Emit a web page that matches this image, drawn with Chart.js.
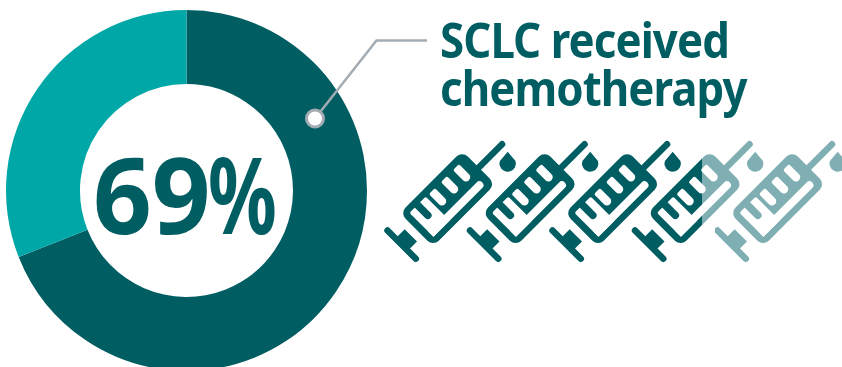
<!DOCTYPE html>
<html>
<head>
<meta charset="utf-8">
<title>SCLC received chemotherapy</title>
<script src="https://cdn.jsdelivr.net/npm/chart.js@4"></script>
<style>
  html, body { margin: 0; padding: 0; background: #fff; overflow: hidden; width: 842px; height: 367px; }
  #wrap { position: relative; width: 842px; height: 367px; overflow: hidden; }
  canvas { position: absolute; left: 0; top: 0; }
  .label { position: absolute; color: #005e63; font-family: "Noto Sans", sans-serif; white-space: nowrap; transform-origin: 0 0; }
  #pct { left: 93px; top: 128px; font-size: 106px; font-weight: 700; line-height: 130px; }
  #pct span { position: absolute; top: 0; transform-origin: 0 0; }
  #digits { left: 0; transform: scaleX(0.97); }
  #sign { left: 115px; transform: scaleX(0.72); }
  #line1 { left: 440px; top: 10px; font-size: 48px; font-weight: 700; line-height: 60px; letter-spacing: -1px; transform: scaleX(0.912); }
  #line2 { left: 440px; top: 58px; font-size: 48px; font-weight: 700; line-height: 60px; letter-spacing: -1px; transform: scaleX(0.912); }
</style>
</head>
<body>
<div id="wrap">
  <canvas id="chart" width="842" height="381"></canvas>
  <div class="label" id="pct"><span id="digits"></span><span id="sign"></span></div>
  <div class="label" id="line1"></div>
  <div class="label" id="line2"></div>
</div>
<script>
const categories = ['Received chemotherapy', 'Did not receive chemotherapy'];
const sliceValues = [69, 31];
const sliceColors = ['#005e63', '#00a7a7'];
const centerLabel = ['69', '%'];
const titleLines = ['SCLC received', 'chemotherapy'];
// how much of each syringe is dark, left to right
const syringeFill = [1, 1, 1, 0.58, 0];

const DARK = '#005e63';
const LIGHT = '#7fafb2';
const LEADER = '#a3abb3';

document.getElementById('digits').textContent = centerLabel[0];
document.getElementById('sign').textContent = centerLabel[1];
document.getElementById('line1').textContent = titleLines[0];
document.getElementById('line2').textContent = titleLines[1];

function roundRect(ctx, x, y, w, h, r) {
  ctx.beginPath();
  ctx.roundRect(x, y, w, h, r);
  ctx.fill();
}

// one syringe, (0,0) is the middle of the barrel's plunger end
function drawSyringe(ctx, x, y, color) {
  ctx.save();
  ctx.translate(x, y);

  // drop stays upright
  ctx.fillStyle = color;
  ctx.beginPath();
  ctx.arc(91.2, -66.3, 8.2, -Math.PI * 0.1, Math.PI * 1.1);
  ctx.lineTo(91.2, -78);
  ctx.closePath();
  ctx.fill();

  ctx.rotate(-Math.PI / 4);
  ctx.strokeStyle = color;
  ctx.lineCap = 'round';
  ctx.lineWidth = 6.5;

  ctx.beginPath();
  ctx.moveTo(86, 0);
  ctx.lineTo(121, 0);
  ctx.stroke();

  ctx.beginPath();
  ctx.moveTo(-21, -20);
  ctx.lineTo(-21, 20);
  ctx.stroke();

  ctx.fillRect(-21, -8.7, 13, 17.4);
  roundRect(ctx, 0, -23.5, 88, 47, 8);

  // white cut-outs
  ctx.fillStyle = '#fff';
  roundRect(ctx, 7, 9, 73, 8, [0, 4, 4, 0]);
  roundRect(ctx, 7, -17, 23, 34, [2, 2, 0, 0]);
  [34, 51, 68].forEach(u => roundRect(ctx, u, -16.5, 8.5, 18.5, [2, 2, 4.2, 4.2]));

  // the finger left of the plunger block
  ctx.fillStyle = color;
  roundRect(ctx, 14.5, -20, 7.5, 21.5, [0, 0, 3.7, 3.7]);

  ctx.restore();
}

const syringePlugin = {
  id: 'syringes',
  afterDraw(chart) {
    const ctx = chart.ctx;
    syringeFill.forEach((f, i) => {
      const dx = i * 82.5;
      const left = 385 + dx;
      // a full syringe keeps its drop dark too
      const splitX = f >= 1 ? left + 140 : left + 120 * f;
      // light part
      ctx.save();
      ctx.beginPath();
      ctx.rect(splitX, 120, 900, 160);
      ctx.clip();
      drawSyringe(ctx, 416.5 + dx, 229.8, LIGHT);
      ctx.restore();
      // dark part
      if (f > 0) {
        ctx.save();
        ctx.beginPath();
        ctx.rect(0, 120, splitX, 160);
        ctx.clip();
        drawSyringe(ctx, 416.5 + dx, 229.8, DARK);
        ctx.restore();
      }
    });
  }
};

const leaderPlugin = {
  id: 'leader',
  afterDraw(chart) {
    const ctx = chart.ctx;
    ctx.save();
    ctx.strokeStyle = LEADER;
    ctx.lineWidth = 2.5;
    ctx.beginPath();
    ctx.moveTo(315, 118.5);
    ctx.lineTo(376.5, 40.5);
    ctx.lineTo(427, 40.5);
    ctx.stroke();
    ctx.fillStyle = '#fff';
    ctx.lineWidth = 3;
    ctx.beginPath();
    ctx.arc(315, 118.5, 8.5, 0, Math.PI * 2);
    ctx.fill();
    ctx.stroke();
    ctx.restore();
  }
};

new Chart(document.getElementById('chart').getContext('2d'), {
  type: 'doughnut',
  data: {
    labels: categories,
    datasets: [{
      data: sliceValues,
      backgroundColor: sliceColors,
      borderWidth: 0
    }]
  },
  options: {
    responsive: false,
    animation: false,
    cutout: '59%',
    layout: { padding: { left: 6, top: 10, right: 475, bottom: 10 } },
    plugins: { legend: { display: false }, tooltip: { enabled: false } }
  },
  plugins: [syringePlugin, leaderPlugin]
});
</script>
</body>
</html>
